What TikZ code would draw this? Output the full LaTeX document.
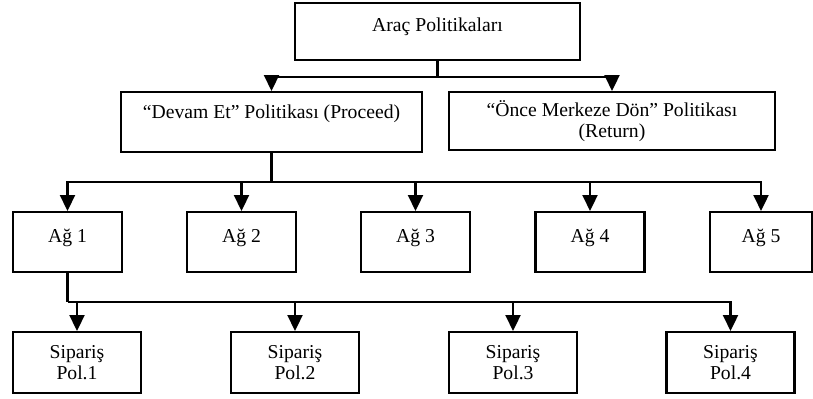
\documentclass[tikz,border=0pt]{standalone}
\usepackage{fontspec}
\setmainfont{Liberation Serif}
\usetikzlibrary{arrows.meta}

\begin{document}
\begin{tikzpicture}[
  x=0.6pt, y=-0.6pt,
  box/.style={draw=black, line width=1.3pt, align=center, inner sep=0pt,
              font=\fontsize{11.8}{13}\selectfont},
  onebox/.style={box, text height=8pt, text depth=8pt},
  agbox/.style={onebox, minimum width=65.4pt, minimum height=36pt},
  sipbox/.style={box, minimum width=76.8pt, minimum height=36.6pt},
  arr/.style={-{Triangle[length=9.5pt,width=9pt]}, line width=1.3pt},
  con/.style={line width=1.3pt},
]
  \useasboundingbox (0,0) rectangle (813,398);
  %% policies
  \node[onebox, minimum width=171pt, minimum height=34.2pt] (arac) at (437.5,31.5)
    {Araç Politikaları};
  \node[box, minimum width=180.6pt, minimum height=36pt,
        text height=8pt, text depth=12.8pt] (devam) at (271.5,122)
    {“Devam Et” Politikası (Proceed)};
  \node[box, minimum width=195.6pt, minimum height=34.8pt] (once) at (612,121)
    {“Önce Merkeze Dön” Politikası\\(Return)};
  \coordinate (j1) at (437.5,77);
  \draw[con] (arac.south) -- (j1);
  \draw[arr] (j1) -| (devam.north);
  \draw[arr] (j1) -| (once.north);
  %% networks
  \foreach \x [count=\i] in {67.5,241.5,415.5,590}
    \node[agbox] (ag\i) at (\x,242) {Ağ \i};
  \node[agbox, minimum width=61.2pt] (ag5) at (761,242) {Ağ 5};
  \coordinate (j2) at (271.5,182);
  \draw[con] (devam.south) -- (j2);
  \foreach \i in {1,...,5}
    \draw[arr] (j2) -| (ag\i.north);
  %% order policies
  \foreach \x [count=\i] in {77,295,513,730.5}
    \node[sipbox] (sip\i) at (\x,362.5) {Sipariş\\Pol.\i};
  \coordinate (j3) at (67.5,302);
  \draw[con] (ag1.south) -- (j3);
  \foreach \i in {1,...,4}
    \draw[arr] (j3) -| (sip\i.north);
\end{tikzpicture}
\end{document}
